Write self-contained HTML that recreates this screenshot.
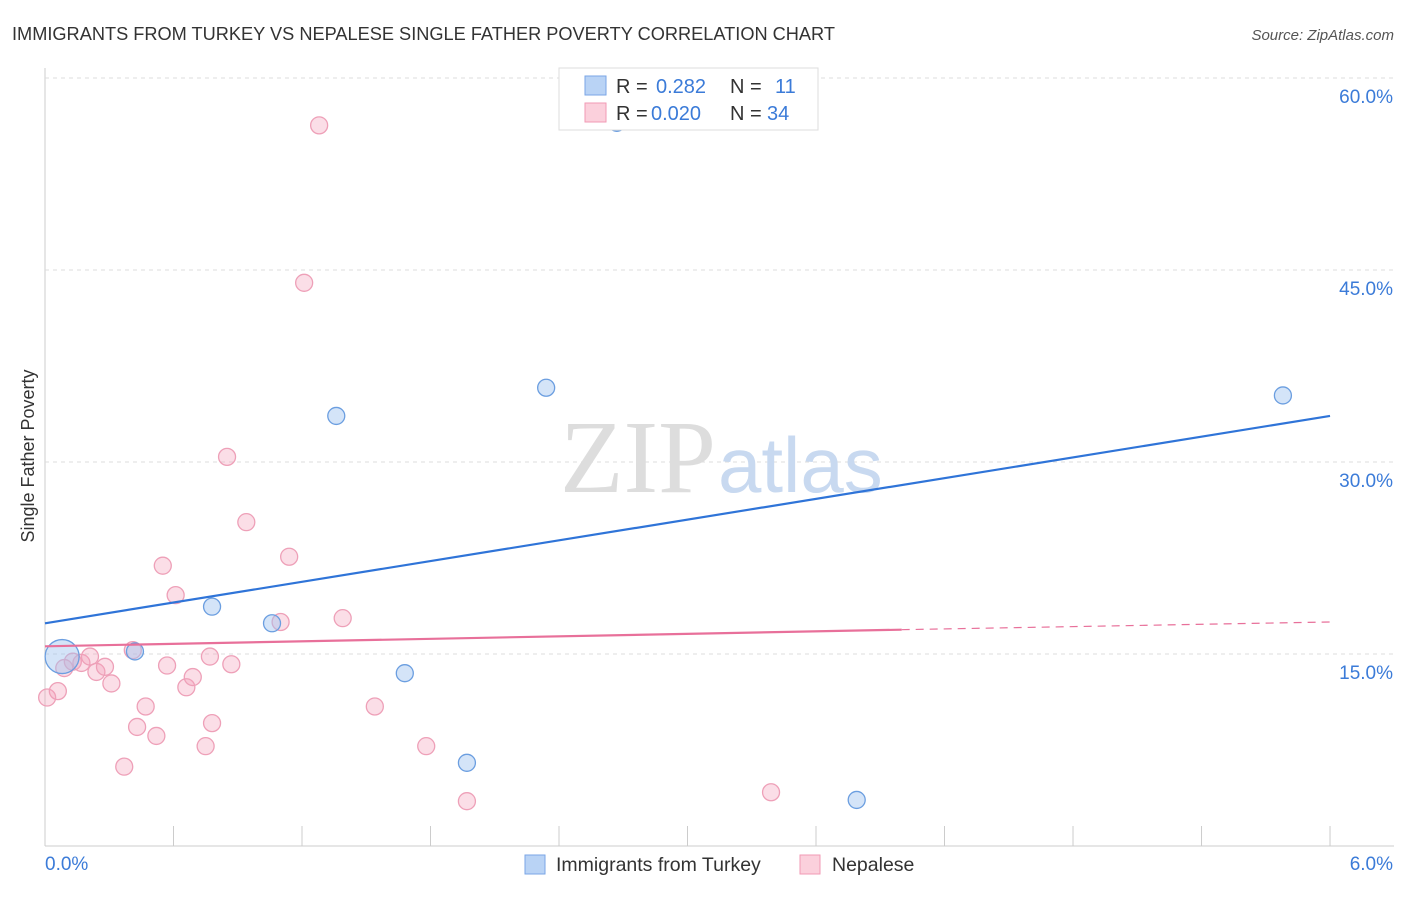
<!DOCTYPE html>
<html><head><meta charset="utf-8"><style>
body{margin:0;background:#fff;font-family:"Liberation Sans",sans-serif;}
svg text{font-family:"Liberation Sans",sans-serif;}
</style></head><body>
<svg id="chart" width="1406" height="892">
<text x="12" y="40" font-size="18.2" fill="#333">IMMIGRANTS FROM TURKEY VS NEPALESE SINGLE FATHER POVERTY CORRELATION CHART</text>
<text x="1394" y="40" font-size="15" fill="#555" font-style="italic" text-anchor="end">Source: ZipAtlas.com</text>
<text x="34" y="456" font-size="18" fill="#333" text-anchor="middle" transform="rotate(-90 34 456)">Single Father Poverty</text>
<g id="grid"></g>
<text x="716" y="492" font-size="104" fill="#ddd" text-anchor="end" style="font-family:'Liberation Serif',serif">ZIP</text>
<text x="718" y="492" font-size="78" fill="#c8d9f0">atlas</text>
<g id="marks"></g>
<g>
<rect x="559" y="68" width="259" height="62" fill="#fff" stroke="#ddd"/>
<rect x="585" y="76" width="21" height="19" fill="#b9d3f5" stroke="#7aa6e6"/>
<text x="616" y="93" font-size="20" fill="#333">R = </text><text x="656" y="93" font-size="20" fill="#3b7bd8">0.282</text>
<text x="730" y="93" font-size="20" fill="#333">N = </text><text x="775" y="93" font-size="20" fill="#3b7bd8">11</text>
<rect x="585" y="103" width="21" height="19" fill="#fbd0dc" stroke="#f19ab4"/>
<text x="616" y="120" font-size="20" fill="#333">R = </text><text x="651" y="120" font-size="20" fill="#3b7bd8">0.020</text>
<text x="730" y="120" font-size="20" fill="#333">N = </text><text x="767" y="120" font-size="20" fill="#3b7bd8">34</text>
</g>
<g>
<rect x="525" y="855" width="20" height="19" fill="#b9d3f5" stroke="#7aa6e6"/>
<text x="556" y="871" font-size="19.5" fill="#333">Immigrants from Turkey</text>
<rect x="800" y="855" width="20" height="19" fill="#fbd0dc" stroke="#f19ab4"/>
<text x="832" y="871" font-size="19.5" fill="#333">Nepalese</text>
</g>
</svg>
<script>
const xTicks=[0,6];
const yTicks=[15,30,45,60];
const turkeyX=[0.08,0.42,0.78,1.06,1.36,1.68,1.97,2.34,2.67,3.79,5.78];
const turkeyY=[14.8,15.2,18.7,17.4,33.6,13.5,6.5,35.8,56.5,3.6,35.2];
const turkeyR=[17,8.5,8.5,8.5,8.5,8.5,8.5,8.5,8.5,8.5,8.5];
const nepalX=[0.01,0.06,0.09,0.13,0.17,0.21,0.24,0.28,0.31,0.37,0.41,0.43,0.47,0.52,0.55,0.57,0.61,0.66,0.69,0.75,0.77,0.78,0.85,0.87,0.94,1.10,1.14,1.21,1.28,1.39,1.54,1.78,1.97,3.39];
const nepalY=[11.6,12.1,13.9,14.4,14.3,14.8,13.6,14.0,12.7,6.2,15.3,9.3,10.9,8.6,21.9,14.1,19.6,12.4,13.2,7.8,14.8,9.6,30.4,14.2,25.3,17.5,22.6,44.0,56.3,17.8,10.9,7.8,3.5,4.2];
const turkeyTrend=[17.4,33.6];
const nepalTrend=[15.6,16.9,17.5];
const nepalTrendX=[0,4.0,6];
const X=v=>45+v*214.17, Y=v=>846-v*12.8;
const NS='http://www.w3.org/2000/svg';
function mk(t,a,p){const e=document.createElementNS(NS,t);for(const k in a)e.setAttribute(k,a[k]);p.appendChild(e);return e;}
const g=document.getElementById('grid'), m=document.getElementById('marks');
const ax=mk('line',{x1:45,y1:68,x2:45,y2:846,stroke:'#ccc'},g);


const bx=mk('line',{x1:45,y1:846,x2:1394,y2:846,stroke:'#ccc'},g);


yTicks.forEach(v=>{const l=mk('line',{x1:45,y1:Y(v),x2:1394,y2:Y(v),stroke:'#ddd','stroke-dasharray':'4,4'},g);


const t=mk('text',{x:1393,y:Y(v)+25,'font-size':19,fill:'#3b7bd8','text-anchor':'end'},g);t.textContent=v.toFixed(1)+'%';

});
for(let i=0;i<=10;i++){const l=mk('line',{x1:X(i*0.6),y1:826,x2:X(i*0.6),y2:846,stroke:'#ccc'},g);

}
xTicks.forEach((v,i)=>{const t=mk('text',{x:i?1393:45,y:870,'font-size':19,fill:'#3b7bd8','text-anchor':i?'end':'start'},g);t.textContent=v.toFixed(1)+'%';

});
nepalX.forEach((v,i)=>{const c=mk('circle',{cx:X(v),cy:Y(nepalY[i]),r:8.5,fill:'rgba(244,160,186,0.35)',stroke:'#eea0b8','stroke-width':1.3},m);

});
turkeyX.forEach((v,i)=>{const c=mk('circle',{cx:X(v),cy:Y(turkeyY[i]),r:turkeyR[i],fill:'rgba(160,196,240,0.45)',stroke:'#6b9ee0','stroke-width':1.3},m);

});
const tl=mk('line',{x1:X(0),y1:Y(turkeyTrend[0]),x2:X(6),y2:Y(turkeyTrend[1]),stroke:'#2f74d8','stroke-width':2.2},m);


const nl=mk('line',{x1:X(nepalTrendX[0]),y1:Y(nepalTrend[0]),x2:X(nepalTrendX[1]),y2:Y(nepalTrend[1]),stroke:'#e8709a','stroke-width':2.2},m);


const nd=mk('line',{x1:X(nepalTrendX[1]),y1:Y(nepalTrend[1]),x2:X(nepalTrendX[2]),y2:Y(nepalTrend[2]),stroke:'#e8709a','stroke-width':1.2,'stroke-dasharray':'8,6'},m);


</script>
</body></html>
